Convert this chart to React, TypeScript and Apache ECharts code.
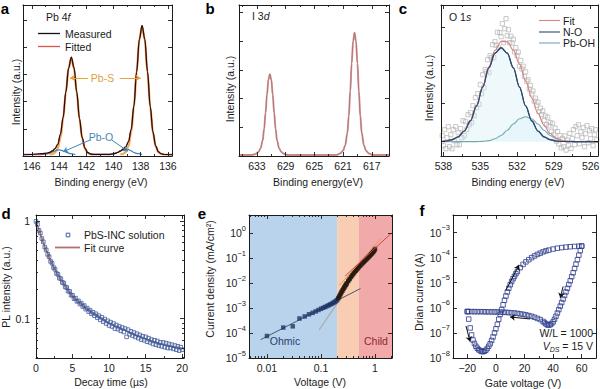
import React, { useEffect, useRef } from 'react';
import * as echarts from 'echarts';

const FONT = '"Liberation Sans", Arial, Helvetica, sans-serif';
const INK = '#1b1b1b';

// ---------------- panel a : Pb 4f ----------------
const aMeasured = [[135.7,0.8],[136.3,1.0],[136.5,1.5],[136.7,2.8],[136.9,6.8],[137.1,16],[137.3,33],[137.5,56],[137.7,77.5],[137.9,86.5],[138.1,77],[138.3,55.5],[138.5,33],[138.7,17.5],[138.9,9.4],[139.1,6],[139.3,4.4],[139.5,3.2],[139.7,2.3],[139.9,1.6],[140.3,1.1],[141.5,1.1],[141.7,1.4],[141.9,2.4],[142.1,5.3],[142.3,12.2],[142.5,25],[142.7,42.5],[142.9,58.5],[143.1,65.5],[143.3,58],[143.5,42.5],[143.7,25.5],[143.9,14.2],[144.1,7.6],[144.3,4.8],[144.5,3.3],[144.7,2.4],[144.9,1.9],[145.3,1.6],[145.7,1.3],[146.1,1.0],[146.65,0.8]];
const aFitted = [[135.7,1],[136.3,1],[136.5,1.4],[136.7,2.6],[136.9,6.4],[137.1,15.5],[137.3,32.4],[137.5,55.6],[137.7,77],[137.9,86.2],[138.1,77.3],[138.3,56.3],[138.5,33.6],[138.7,17.8],[138.9,9.6],[139.1,6.1],[139.3,4.6],[139.5,3.4],[139.7,2.4],[139.9,1.7],[140.3,1],[141.5,1],[141.7,1.3],[141.9,2.2],[142.1,5],[142.3,11.9],[142.5,24.6],[142.7,42],[142.9,58.1],[143.1,65.2],[143.3,58.4],[143.5,42.8],[143.7,25.9],[143.9,14.5],[144.1,7.7],[144.3,4.9],[144.5,3.5],[144.7,2.3],[144.9,1.6],[145.3,1],[146.65,1]];
const aPbS72 = [[136.3,1],[136.5,1.4],[136.7,2.6],[136.9,6.4],[137.1,15.5],[137.3,32.4],[137.5,55.6],[137.7,77],[137.9,86],[138.1,77],[138.3,55.6],[138.5,32.4],[138.7,15.5],[138.9,6.4],[139.1,2.6],[139.3,1.4],[139.5,1]];
const aPbS52 = [[141.5,1],[141.7,1.3],[141.9,2.2],[142.1,5],[142.3,11.9],[142.5,24.6],[142.7,42],[142.9,58],[143.1,65],[143.3,58],[143.5,42],[143.7,24.6],[143.9,11.9],[144.1,5],[144.3,2.2],[144.5,1.3],[144.7,1]];
const aPbO72 = [[137.9,1],[138.3,1.7],[138.5,2.4],[138.7,3.4],[138.9,4.2],[139.1,4.5],[139.3,4.2],[139.5,3.4],[139.7,2.4],[139.9,1.7],[140.3,1]];
const aPbO52 = [[142.8,1],[143.2,1.6],[143.4,2.2],[143.6,3],[143.8,3.7],[144.0,4],[144.2,3.7],[144.4,3],[144.6,2.2],[144.8,1.6],[145.2,1]];
const aPbSArrows = [[[141.87,51.7],[143.2,51.7]],[[139.55,51.7],[138.0,51.7]]];
const aPbOArrows = [[[141.72,10.6],[143.7,2.8]],[[140.13,10.6],[138.95,3.2]]];
const aXTicks = [136,138,140,142,144,146];
const aXMinor = [137,139,141,143,145];
const aYTicks = [18,36,54,72,90];

// ---------------- panel b : I 3d ----------------
const bSpectrum = [[614.6,0.7],[616.9,0.7],[617.4,1.7],[617.8,3.5],[618.1,7.2],[618.4,15.3],[618.6,26.6],[618.8,42.8],[619.0,61.5],[619.2,76],[619.4,81.7],[619.6,76],[619.8,61.5],[620.0,42.8],[620.2,26.6],[620.4,15.3],[620.7,7.2],[621.0,3.5],[621.4,1.7],[621.9,0.7],[628.7,0.7],[629.2,1.3],[629.6,2.6],[629.9,5.0],[630.2,10.3],[630.4,17.8],[630.6,28.5],[630.8,40.8],[631.0,50.5],[631.2,54.2],[631.4,50.5],[631.6,40.8],[631.8,28.5],[632.0,17.8],[632.2,10.3],[632.5,5.0],[632.8,2.6],[633.2,1.3],[633.7,0.7],[635.5,0.7]];
const bXTicks = [617,621,625,629,633];
const bXMinor = [615,619,623,627,631,635];
const bYTicks = [19,38,57,76,95];

// ---------------- panel c : O 1s ----------------
const cScan = [[538.1,6],[538.0,-4],[537.9,12],[537.8,-7],[537.7,4],[537.6,15],[537.5,-5],[537.4,7],[537.3,-7],[537.2,12],[537.1,1],[537.0,15],[536.9,-3],[536.8,9],[536.7,-3],[536.6,13],[536.5,4],[536.4,21],[536.3,6],[536.2,20],[536.1,12],[536.0,27],[535.9,17],[535.8,29],[535.7,19],[535.6,36],[535.5,26],[535.4,44],[535.3,34],[535.2,48],[535.1,37.5],[535.0,57],[534.9,48],[534.8,67],[534.7,54],[534.6,72],[534.5,70],[534.4,82],[534.3,69],[534.2,86],[534.1,84],[534.0,97],[533.9,84],[533.8,100],[533.7,96.5],[533.6,109.5],[533.5,94],[533.4,109],[533.3,105],[533.2,118],[533.1,99],[533.0,113],[532.9,123],[532.8,106],[532.7,112],[532.6,99],[532.5,105.5],[532.4,98.6],[532.3,102.6],[532.2,89.8],[532.1,94],[532.0,86.2],[531.9,89.4],[531.8,75.5],[531.7,81.2],[531.6,72.8],[531.5,75.5],[531.4,65.2],[531.3,69.8],[531.2,60.4],[531.1,62],[531.0,52.6],[530.9,56.2],[530.8,47.8],[530.7,50.7],[530.6,40.6],[530.5,43.5],[530.4,36.5],[530.3,39.4],[530.2,30],[530.1,33.6],[530.0,27.2],[529.9,30.8],[529.8,21.4],[529.7,25.8],[529.6,17.1],[529.5,24.5],[529.4,15.8],[529.3,19.2],[529.2,10.3],[529.1,18.4],[529.0,7.4],[528.9,13.5],[528.8,0.6],[528.7,10.1],[528.6,-2.3],[528.5,6.2],[528.4,-6.2],[528.3,3.3],[528.2,-5],[528.1,5.8],[528.0,-8.4],[527.9,1.5],[527.8,-3.6],[527.7,8.3],[527.6,-6.8],[527.5,3.2],[527.4,12.1],[527.3,-2.9],[527.2,15],[527.1,6],[527.0,17],[526.9,-2],[526.8,10],[526.7,4],[526.6,14],[526.5,-5],[526.4,8],[526.3,16],[526.2,-1],[526.1,11],[526.0,3],[525.9,13],[525.8,-4],[525.7,7],[525.6,12],[525.5,2]];
const cNO = [[538.2,0.1],[537.8,0.7],[537.3,2.0],[536.8,4.9],[536.3,10.7],[535.8,20.9],[535.3,35.8],[534.8,54.6],[534.3,73.9],[533.8,88.5],[533.3,94],[532.8,88.5],[532.3,73.9],[531.8,54.6],[531.3,35.8],[530.8,20.9],[530.3,10.7],[529.8,4.9],[529.3,2.0],[528.8,0.7],[528.3,0.2],[525.4,0]];
const cPbOH = [[538.2,0],[535.3,0.1],[534.8,0.35],[534.3,1.1],[533.8,2.9],[533.3,6.2],[532.8,11.5],[532.3,17.7],[531.8,22.9],[531.3,25],[530.8,22.9],[530.3,17.7],[529.8,11.5],[529.3,6.2],[528.8,2.9],[528.3,1.1],[527.8,0.35],[527.3,0.1],[525.4,0]];
const cFit = [[538.2,0.1],[537.8,0.7],[537.3,2.0],[536.8,4.9],[536.3,10.7],[535.8,21],[535.3,35.9],[534.8,55],[534.3,75],[533.8,91.4],[533.3,100.2],[532.8,100],[532.3,91.6],[531.8,77.5],[531.3,60.8],[530.8,43.8],[530.3,28.4],[529.8,16.4],[529.3,8.2],[528.8,3.6],[528.3,1.3],[527.8,0.35],[527.3,0.1],[525.4,0]];
const cXTicks = [526,529,532,535,538];
const cXMinor = [527.5,530.5,533.5,536.5];
const cYTicks = [0,38,76,114];

// ---------------- panel d : PL decay ----------------
const dTime = [0,0.2,0.4,0.6,0.8,1,1.2,1.4,1.6,1.8,2,2.2,2.4,2.6,2.8,3,3.2,3.4,3.6,3.8,4,4.2,4.4,4.6,4.8,5,5.2,5.4,5.6,5.8,6,6.2,6.4,6.6,6.8,7,7.2,7.4,7.6,7.8,8,8.2,8.4,8.6,8.8,9,9.2,9.4,9.6,9.8,10,10.2,10.4,10.6,10.8,11,11.2,11.4,11.6,11.8,12,12.2,12.4,12.6,12.8,13,13.2,13.4,13.6,13.8,14,14.2,14.4,14.6,14.8,15,15.2,15.4,15.6,15.8,16,16.2,16.4,16.6,16.8,17,17.2,17.4,17.6,17.8,18,18.2,18.4,18.6,18.8,19,19.2,19.4,19.6,19.8,20];
const dPL = [0.99,0.92,0.80,0.75,0.66,0.61,0.54,0.505,0.455,0.43,0.385,0.37,0.333,0.32,0.29,0.284,0.26,0.256,0.235,0.231,0.211,0.208,0.191,0.19,0.174,0.173,0.16,0.162,0.15,0.152,0.141,0.144,0.133,0.136,0.125,0.128,0.118,0.122,0.112,0.116,0.107,0.112,0.102,0.107,0.097,0.103,0.093,0.099,0.089,0.095,0.085,0.092,0.083,0.089,0.079,0.086,0.078,0.083,0.075,0.081,0.073,0.079,0.065,0.077,0.069,0.074,0.067,0.072,0.065,0.07,0.063,0.068,0.061,0.066,0.06,0.065,0.058,0.063,0.057,0.061,0.055,0.06,0.054,0.059,0.053,0.057,0.052,0.057,0.051,0.056,0.05,0.055,0.05,0.054,0.049,0.053,0.048,0.052,0.047,0.051,0.048];
const dFitTime = [0,0.25,0.5,0.75,1,1.25,1.5,2,2.5,3,3.5,4,4.5,5,5.5,6,7,8,9,10,11,12,13,14,15,16,17,18,19,20];
const dFitPL = [1.0,0.88,0.77,0.68,0.60,0.53,0.48,0.39,0.325,0.28,0.245,0.215,0.19,0.17,0.156,0.145,0.125,0.111,0.1,0.09,0.083,0.077,0.071,0.066,0.062,0.058,0.055,0.053,0.051,0.049];
const dXTicks = [0,5,10,15,20];
const dXMinor = [2.5,7.5,12.5,17.5];
const dYTicks = [0.1,1];
const dYMinor = [0.04,0.05,0.06,0.07,0.08,0.09,0.2,0.3,0.4,0.5,0.6,0.7,0.8,0.9];

// ---------------- panel e : J-V ----------------
const eVoltage = [0.01,0.02,0.03,0.04,0.05,0.06,0.07,0.08,0.09,0.10,0.11,0.12,0.13,0.14,0.15,0.16,0.17,0.18,0.19,0.20,0.21,0.22,0.23,0.24,0.25,0.26,0.27,0.28,0.29,0.30,0.32,0.34,0.36,0.38,0.40,0.42,0.44,0.46,0.48,0.50,0.53,0.56,0.59,0.62,0.65,0.68,0.71,0.74,0.77,0.80,0.83,0.86,0.89,0.92,0.95,0.98,1.0];
const eCurrent = [7.6e-5,1.65e-4,1.85e-4,3.8e-4,4.6e-4,5.6e-4,6.4e-4,7.3e-4,8.3e-4,9.3e-4,1.02e-3,1.1e-3,1.2e-3,1.3e-3,1.4e-3,1.5e-3,1.62e-3,1.76e-3,1.92e-3,2.1e-3,2.5e-3,3.0e-3,3.6e-3,4.3e-3,5.0e-3,5.8e-3,6.6e-3,7.5e-3,8.5e-3,9.6e-3,1.2e-2,1.45e-2,1.75e-2,2.05e-2,2.4e-2,2.75e-2,3.1e-2,3.5e-2,3.9e-2,4.3e-2,4.9e-2,5.6e-2,6.3e-2,7.0e-2,7.8e-2,8.6e-2,9.5e-2,0.104,0.114,0.124,0.135,0.147,0.16,0.175,0.19,0.21,0.23];
const eRegionEdges = [0.2, 0.5];
const eOhmicFit = [[0.0076,5.4e-5],[0.54,6.0e-3]];
const eTrapFit = [[0.093,1.35e-4],[0.21,1.8e-3]];
const eOrangeFit = [[0.22,8.1e-3],[1.29,0.6]];
const eChildFit = [[0.28,1.9e-2],[1.98,0.95]];
const eXTicks = [0.01,0.1,1];
const eXMinor = [0.005,0.006,0.007,0.008,0.009,0.02,0.03,0.04,0.05,0.06,0.07,0.08,0.09,0.2,0.3,0.4,0.5,0.6,0.7,0.8,0.9,2];
const eYTicks = [1e-5,1e-4,1e-3,1e-2,1e-1,1];

// ---------------- panel f : transfer curve ----------------
const fForwardV = [-20,-19,-18,-17,-16,-15,-14,-13,-12,-11,-10,-9,-8,-7,-6,-5,-4,-3,-2,-1,0,1,2,3,4,5,6,7,8,9,10,11,12,13,14,15,17,19,21,23,25,27,29,31,33,35,37,40,43,46,49,52,55,58,60];
const fForwardI = [7.1e-7,3.55e-7,1.58e-7,8.3e-8,5.2e-8,3.8e-8,2.95e-8,2.45e-8,2.14e-8,1.95e-8,1.82e-8,1.78e-8,1.86e-8,2.05e-8,2.4e-8,2.95e-8,3.7e-8,5.0e-8,6.9e-8,1.0e-7,1.45e-7,2.2e-7,3.5e-7,5.5e-7,8.5e-7,1.32e-6,2.0e-6,2.95e-6,4.3e-6,6.0e-6,8.3e-6,1.12e-5,1.45e-5,1.8e-5,2.3e-5,2.8e-5,4.0e-5,5.4e-5,6.8e-5,8.3e-5,1.0e-4,1.17e-4,1.35e-4,1.51e-4,1.7e-4,1.86e-4,2.0e-4,2.2e-4,2.38e-4,2.52e-4,2.63e-4,2.72e-4,2.8e-4,2.86e-4,2.9e-4];
const fReverseV = [60,59,58,57,56,55,54,53,52,51,50,49,48,47,46,45,44,43,42,41,40,39,38,37,36,35,34,33,31,29,27,25,23,21,19,17,15,13,11,9,7,5,3,1,-1,-3,-5,-7,-9,-11,-13,-15,-17,-19,-20];
const fReverseI = [2.9e-4,1.9e-4,1.26e-4,8.3e-5,5.5e-5,3.7e-5,2.5e-5,1.74e-5,1.2e-5,8.5e-6,6.0e-6,4.3e-6,3.1e-6,2.24e-6,1.62e-6,1.17e-6,8.5e-7,6.2e-7,4.6e-7,3.5e-7,2.75e-7,2.35e-7,2.14e-7,2.04e-7,2.09e-7,2.29e-7,2.57e-7,2.88e-7,3.4e-7,3.8e-7,4.2e-7,4.6e-7,4.9e-7,5.25e-7,5.5e-7,5.75e-7,6.0e-7,6.2e-7,6.3e-7,6.45e-7,6.6e-7,6.7e-7,6.75e-7,6.8e-7,6.85e-7,6.9e-7,6.9e-7,6.95e-7,7.0e-7,7.0e-7,7.0e-7,7.05e-7,7.05e-7,7.1e-7,7.1e-7];
const fArrows = [[[-20.9,1.9e-7],[-18.1,4.5e-8]],[[6.9,4.9e-6],[16.2,5.1e-5]],[[47,7.1e-6],[45,2.5e-6]],[[23.8,3.6e-7],[9.9,4.3e-7]]];
const fXTicks = [-20,0,20,40,60];
const fXMinor = [-30,-10,10,30,50,70];
const fYTicks = [1e-8,1e-7,1e-6,1e-5,1e-4,1e-3];

// ---------------- option builder ----------------
function buildOption() {
  const xAxis: any[] = [];
  const yAxis: any[] = [];
  const series: any[] = [];
  const L = (v: number) => Math.log10(v);
  const plain = (v: number) => String(+v.toFixed(3));
  const decimal = (v: number) => String(+Math.pow(10, v).toPrecision(3));
  const pow10 = (v: number) => {
    const n = Math.round(v);
    return `{b|10}{s|${n < 0 ? '\u2212' + Math.abs(n) : n}}`;
  };
  const supRich = {
    b: { fontSize: 10.5, fontFamily: FONT, color: INK, lineHeight: 18 },
    s: { fontSize: 7.5, fontFamily: FONT, color: INK, lineHeight: 8, verticalAlign: 'top' },
  };

  function addAxes(list: any[], grid: number, dim: 'x' | 'y', o: any): number {
    const near = dim === 'x' ? 'bottom' : 'left';
    const far = dim === 'x' ? 'top' : 'right';
    const base = {
      type: 'value', gridIndex: grid, min: o.min, max: o.max, inverse: !!o.inverse, z: 10,
      splitLine: { show: false }, minorTick: { show: false }, minorSplitLine: { show: false },
      axisPointer: { show: false }, silent: true,
    };
    const lineOn = { show: true, onZero: false, lineStyle: { color: INK, width: 1 } };
    const tick = (vals: number[], len: number) => ({ show: true, inside: true, length: len, customValues: vals, lineStyle: { color: INK, width: 0.9 } });
    const idx = list.length;
    list.push({
      ...base, position: near, axisLine: lineOn, axisTick: tick(o.major, 4),
      axisLabel: o.labels ? {
        show: true, customValues: o.labels, formatter: o.formatter, margin: o.margin ?? 4,
        color: INK, fontSize: 10.5, fontFamily: FONT, rich: o.rich,
      } : { show: false },
    });
    list.push({ ...base, position: far, axisLine: lineOn, axisTick: tick(o.major, 4), axisLabel: { show: false } });
    if (o.minor) {
      list.push({ ...base, position: near, axisLine: { show: false, onZero: false }, axisTick: tick(o.minor, 2), axisLabel: { show: false } });
      list.push({ ...base, position: far, axisLine: { show: false, onZero: false }, axisTick: tick(o.minor, 2), axisLabel: { show: false } });
    }
    return idx;
  }

  const line = (xi: number, yi: number, data: any[], color: string, width: number, extra: any = {}) => ({
    type: 'line', xAxisIndex: xi, yAxisIndex: yi, data, symbol: 'none', smooth: 0.35, smoothMonotone: 'x',
    lineStyle: { color, width }, z: 3, silent: true, ...extra,
  });
  const arrows = (xi: number, yi: number, pairs: any[], color: string, size = 6) => ({
    type: 'line', xAxisIndex: xi, yAxisIndex: yi, data: [], z: 5, silent: true,
    markLine: {
      silent: true, symbol: ['none', 'arrow'], symbolSize: size, label: { show: false },
      lineStyle: { color, width: 1, type: 'solid' }, emphasis: { disabled: true },
      data: pairs.map((p: any) => [{ coord: p[0] }, { coord: p[1] }]),
    },
  });

  // ---- a ----
  const ax = addAxes(xAxis, 0, 'x', { min: 135.7, max: 146.65, inverse: true, major: aXTicks, minor: aXMinor, labels: aXTicks, formatter: plain });
  const ay = addAxes(yAxis, 0, 'y', { min: 0, max: 100, major: aYTicks });
  series.push(line(ax, ay, aPbS52, '#f2ad4e', 2.3));
  series.push(line(ax, ay, aPbS72, '#f2ad4e', 2.3));
  series.push(line(ax, ay, aPbO52, '#3f86b6', 1.2));
  series.push(line(ax, ay, aPbO72, '#3f86b6', 1.2));
  series.push(line(ax, ay, aFitted, '#d9534f', 1.4));
  series.push(line(ax, ay, aMeasured, '#111111', 1.1));
  series.push(arrows(ax, ay, aPbSArrows, '#e8a23c', 5));
  series.push(arrows(ax, ay, aPbOArrows, '#3f86b6', 5));

  // ---- b ----
  const bx = addAxes(xAxis, 1, 'x', { min: 614.6, max: 635.5, inverse: true, major: bXTicks, minor: bXMinor, labels: bXTicks, formatter: plain });
  const by = addAxes(yAxis, 1, 'y', { min: 0, max: 100, major: bYTicks });
  series.push(line(bx, by, bSpectrum, '#e59c9c', 2));
  series.push(line(bx, by, bSpectrum, '#8c6a6a', 0.7));

  // ---- c ----
  const cx = addAxes(xAxis, 2, 'x', { min: 525.4, max: 538.2, inverse: true, major: cXTicks, minor: cXMinor, labels: cXTicks, formatter: plain });
  const cy = addAxes(yAxis, 2, 'y', { min: -14.3, max: 136.7, major: cYTicks });
  series.push(line(cx, cy, cNO, '#2d4b70', 1.2, { areaStyle: { color: 'rgba(205,236,246,0.45)' } }));
  series.push(line(cx, cy, cPbOH, '#6fa9b3', 1.1, { areaStyle: { color: 'rgba(205,236,246,0.3)' } }));
  series.push({
    type: 'scatter', xAxisIndex: cx, yAxisIndex: cy, data: cScan, symbol: 'rect', symbolSize: 4.2, z: 2, silent: true,
    itemStyle: { color: 'rgba(0,0,0,0)', borderColor: '#b4b4b4', borderWidth: 0.9 },
  });
  series.push(line(cx, cy, cFit, '#d98585', 1.2, { z: 4 }));
  series.push(line(cx, cy, cNO, '#2d4b70', 1.2, { z: 4 }));

  // ---- d ----
  const dx = addAxes(xAxis, 3, 'x', { min: 0, max: 20.25, major: dXTicks, minor: dXMinor, labels: dXTicks, formatter: plain });
  const dy = addAxes(yAxis, 3, 'y', { min: L(0.0395), max: L(1.15), major: dYTicks.map(L), minor: dYMinor.map(L), labels: dYTicks.map(L), formatter: decimal, margin: 6 });
  series.push(line(dx, dy, dFitTime.map((t, i) => [t, L(dFitPL[i])]), '#b46f6a', 1.8));
  series.push({
    type: 'scatter', xAxisIndex: dx, yAxisIndex: dy, data: dTime.map((t, i) => [t, L(dPL[i])]), symbol: 'rect', symbolSize: 3.6, z: 4, silent: true,
    itemStyle: { color: 'rgba(0,0,0,0)', borderColor: '#3d5c9f', borderWidth: 1 },
  });

  // ---- e ----
  const exMin = -2.333, exMax = 0.316;
  const ex = addAxes(xAxis, 4, 'x', { min: exMin, max: exMax, major: eXTicks.map(L), minor: eXMinor.map(L), labels: eXTicks.map(L), formatter: decimal });
  const ey = addAxes(yAxis, 4, 'y', { min: -5, max: 0.72, major: eYTicks.map(L), labels: eYTicks.map(L), formatter: pow10, rich: supRich, margin: 3 });
  const edges = [exMin, L(eRegionEdges[0]), L(eRegionEdges[1]), exMax];
  const bandColors = ['#b9d3ec', '#f8cdb1', '#f2a9a9'];
  series.push({
    type: 'line', xAxisIndex: ex, yAxisIndex: ey, data: [], z: 1, silent: true,
    markArea: {
      silent: true, label: { show: false },
      data: bandColors.map((c, i) => [{ xAxis: edges[i], itemStyle: { color: c, opacity: 1 } }, { xAxis: edges[i + 1] }]),
    },
  });
  const eLog = (pts: number[][]) => pts.map((p) => [L(p[0]), L(p[1])]);
  series.push(line(ex, ey, eLog(eOhmicFit), '#4b5875', 1, { smooth: false }));
  series.push(line(ex, ey, eLog(eTrapFit), '#a9a9a9', 1.2, { smooth: false }));
  const ePts = eVoltage.map((v, i) => [L(v), L(eCurrent[i])]);
  series.push(line(ex, ey, ePts.filter((p, i) => eVoltage[i] >= eRegionEdges[0]), '#2a1a10', 4, { smooth: 0.2 }));
  series.push({
    type: 'scatter', xAxisIndex: ex, yAxisIndex: ey, data: ePts, symbol: 'rect', symbolSize: 4.5, z: 4, silent: true,
    itemStyle: { color: (p: any) => (p.value[0] > L(eRegionEdges[0]) ? '#2a1a10' : '#1f3566') },
  });
  series.push(line(ex, ey, eLog(eOrangeFit), '#e49b55', 1, { smooth: false, z: 5 }));
  series.push(line(ex, ey, eLog(eChildFit), '#c9474a', 1, { smooth: false, z: 5 }));

  // ---- f ----
  const fx = addAxes(xAxis, 5, 'x', { min: -30, max: 70, major: fXTicks, minor: fXMinor, labels: fXTicks, formatter: (v: number) => (v < 0 ? '\u2212' + Math.abs(v) : String(v)) });
  const fy = addAxes(yAxis, 5, 'y', { min: -8, max: -2.3, major: fYTicks.map(L), labels: fYTicks.map(L), formatter: pow10, rich: supRich, margin: 3 });
  const fSquares = (vs: number[], is: number[]) => ({
    type: 'scatter', xAxisIndex: fx, yAxisIndex: fy, data: vs.map((v, i) => [v, L(is[i])]), symbol: 'rect', symbolSize: 4.5, z: 3, silent: true,
    itemStyle: { color: 'rgba(0,0,0,0)', borderColor: '#2e3d8c', borderWidth: 1 },
  });
  series.push(fSquares(fForwardV, fForwardI));
  series.push(fSquares(fReverseV, fReverseI));
  series.push(arrows(fx, fy, fArrows.map((pr) => pr.map((p) => [p[0], L(p[1])])), '#111111', 5));

  // ---- texts ----
  const T = (x: number, y: number, text: string, o: any = {}) => ({
    type: 'text', x, y, silent: true, rotation: o.rot ?? 0, z: 20,
    style: {
      text, fill: o.color ?? INK, fontSize: o.size ?? 10.5, fontFamily: FONT, fontWeight: o.weight ?? 'normal',
      align: o.align ?? 'center', verticalAlign: 'middle', textAlign: o.align ?? 'center', textVerticalAlign: 'middle',
      rich: o.rich,
    },
  });
  const R = Math.PI / 2;
  const italicRich = { n: { fontSize: 10.5, fontFamily: FONT, color: INK }, i: { fontSize: 10.5, fontFamily: FONT, fontStyle: 'italic', color: INK } };
  const seg = (x1: number, y1: number, x2: number, y2: number, color: string, w = 1.3) => ({
    type: 'line', silent: true, z: 20, shape: { x1, y1, x2, y2 }, style: { stroke: color, lineWidth: w },
  });

  const graphic: any[] = [
    T(5, 8, 'a', { size: 15, weight: 'bold', color: '#000' }),
    T(210, 8, 'b', { size: 15, weight: 'bold', color: '#000' }),
    T(403, 8, 'c', { size: 15, weight: 'bold', color: '#000' }),
    T(6, 213, 'd', { size: 15, weight: 'bold', color: '#000' }),
    T(202, 213, 'e', { size: 15, weight: 'bold', color: '#000' }),
    T(422, 210, 'f', { size: 15, weight: 'bold', color: '#000' }),
    // axis titles
    T(101, 182, 'Binding energy (eV)'),
    T(16, 92, 'Intensity (a.u.)', { rot: R }),
    T(318, 182, 'Binding energy(eV)'),
    T(230, 89, 'Intensity (a.u.)', { rot: R }),
    T(518, 182, 'Binding energy (eV)'),
    T(429, 88, 'Intensity (a.u.)', { rot: R }),
    T(111, 382, 'Decay time (\u00b5s)'),
    T(6, 287, 'PL intensity (a.u.)', { rot: R }),
    T(320, 382, 'Voltage (V)'),
    T(210, 279, 'Current density (mA/cm\u00b2)', { rot: R }),
    T(523, 383, 'Gate voltage (V)'),
    T(419, 292, 'Drian current (A)', { rot: R }),
    // panel a annotations
    T(46, 17, '{n|Pb 4}{i|f}', { align: 'left', rich: italicRich }),
    seg(38, 33.5, 60, 33.5, '#111'),
    T(65, 33.5, 'Measured', { align: 'left' }),
    seg(38, 46.5, 60, 46.5, '#d9534f'),
    T(65, 46.5, 'Fitted', { align: 'left' }),
    T(102.5, 78, 'Pb-S', { color: '#e0a03c' }),
    T(101, 136.5, 'Pb-O', { color: '#3f86b6' }),
    // panel b
    T(252, 16, '{n|I 3}{i|d}', { align: 'left', rich: italicRich }),
    // panel c
    T(449, 17, '{n|O 1}{i|s}', { align: 'left', rich: italicRich }),
    seg(539, 20.5, 560, 20.5, '#d98585', 1.1),
    T(563, 20.5, 'Fit', { align: 'left' }),
    seg(539, 32, 560, 32, '#2d4b70', 1.1),
    T(563, 32, 'N-O', { align: 'left' }),
    seg(539, 43, 560, 43, '#6fa9b3', 1.1),
    T(563, 43, 'Pb-OH', { align: 'left' }),
    // panel d legend
    { type: 'rect', silent: true, z: 20, shape: { x: 66.2, y: 233.2, width: 3.6, height: 3.6 }, style: { fill: 'none', stroke: '#3d5c9f', lineWidth: 1 } },
    T(84, 235, 'PbS-INC solution', { align: 'left' }),
    seg(55, 247.5, 80, 247.5, '#b46f6a', 1.8),
    T(84, 247.5, 'Fit curve', { align: 'left' }),
    // panel e
    T(285, 341, 'Ohmic', { color: '#25406e' }),
    T(376, 341, 'Child', { color: '#8b2a2e' }),
    // panel f
    T(593, 333, 'W/L = 1000', { align: 'right' }),
    T(593, 346, '{v|V}{d|DS}{t| = 15 V}', {
      align: 'right',
      rich: {
        v: { fontSize: 10.5, fontFamily: FONT, fontStyle: 'italic', color: INK, lineHeight: 14 },
        d: { fontSize: 7, fontFamily: FONT, fontStyle: 'italic', color: INK, lineHeight: 8, verticalAlign: 'bottom' },
        t: { fontSize: 10.5, fontFamily: FONT, color: INK, lineHeight: 14 },
      },
    }),
  ];

  const grid = [
    { left: 23, top: 5, width: 149, height: 151 },
    { left: 239, top: 5, width: 150, height: 151 },
    { left: 441, top: 5, width: 157, height: 151 },
    { left: 36, top: 215, width: 148, height: 143 },
    { left: 249, top: 215, width: 143, height: 143 },
    { left: 453, top: 215, width: 143, height: 143 },
  ].map((g) => ({ ...g, containLabel: false, outerBoundsMode: 'none', show: false }));

  return {
    animation: false,
    backgroundColor: '#ffffff',
    textStyle: { fontFamily: FONT },
    grid, xAxis, yAxis, series, graphic,
  };
}

export default function App() {
  const ref = useRef<HTMLDivElement>(null);
  useEffect(() => {
    if (!ref.current) return;
    const chart = echarts.init(ref.current, undefined, { renderer: 'svg' });
    chart.setOption(buildOption() as any);
    return () => chart.dispose();
  }, []);
  return <div ref={ref} style={{ position: 'fixed', left: 0, top: 0, width: 600, height: 389, background: '#fff' }} />;
}
